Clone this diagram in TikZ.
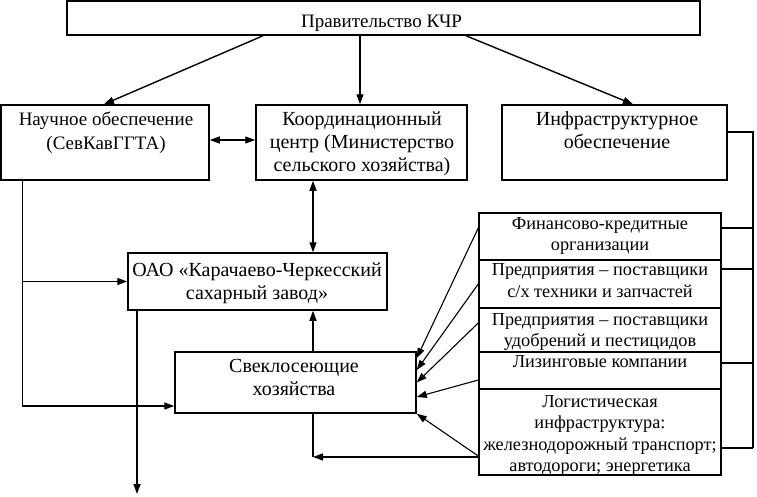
\documentclass[tikz,border=0pt]{standalone}
\usepackage{fontspec}
\setmainfont{Liberation Serif}
\usetikzlibrary{arrows.meta}
\newcommand{\mlines}[1]{\begin{tabular}[t]{@{}c@{}}#1\end{tabular}}
\begin{document}
\begin{tikzpicture}[x=1pt,y=-1pt,
  box/.style={draw, line width=1.5pt, inner sep=0pt},
  bigtxt/.style={anchor=base, inner sep=0pt, font=\fontsize{20}{23.3}\selectfont},
  midtxt/.style={anchor=base, inner sep=0pt, font=\fontsize{19}{24}\selectfont},
  smtxt/.style={anchor=base, inner sep=0pt, font=\fontsize{18.3}{21.5}\selectfont},
  conn/.style={line width=1.4pt},
  thin/.style={line width=0.9pt},
  arr/.style={line width=1.4pt, -{Triangle[length=10pt,width=7pt]}},
  darr/.style={line width=1.4pt, {Triangle[length=10pt,width=7pt]}-{Triangle[length=10pt,width=7pt]}},
  tarr/.style={line width=1.1pt, -{Triangle[length=10pt,width=7pt]}}]
\useasboundingbox (0,0) rectangle (757,496);
% boxes
\node[box, minimum width=633pt, minimum height=34pt] (gov) at (383.5,18) {};
\node[box, minimum width=208pt, minimum height=75pt] (nauch) at (105,142.5) {};
\node[box, minimum width=211pt, minimum height=75pt] (koord) at (361.5,142.5) {};
\node[box, minimum width=225pt, minimum height=75pt] (infra) at (614.5,142.5) {};
\node[box, minimum width=259pt, minimum height=57pt] (oao) at (257.5,281.5) {};
\node[box, minimum width=241pt, minimum height=61pt] (svek) at (295.5,382.5) {};
\node[box, minimum width=242pt, minimum height=47pt] (fin) at (600,236.5) {};
\node[box, minimum width=242pt, minimum height=48pt] (pr1) at (600,284) {};
\node[box, minimum width=242pt, minimum height=44pt] (pr2) at (600,330) {};
\node[box, minimum width=242pt, minimum height=37pt] (liz) at (600,370.5) {};
\node[box, minimum width=242pt, minimum height=86pt] (log) at (600,432) {};
% texts (positioned by the baseline of their first line)
\node[midtxt] (govT) at (381.5,27) {Правительство КЧР};
\node[midtxt] (nauchT) at (106,125) {\mlines{Научное обеспечение\\(СевКавГГТА)}};
\node[bigtxt] (koordT) at (362,125) {\mlines{Координационный\\центр (Министерство\\сельского хозяйства)}};
\node[bigtxt] (infraT) at (617,125) {\mlines{Инфраструктурное\\обеспечение}};
\node[bigtxt] (oaoT) at (257,276) {\mlines{ОАО «Карачаево-Черкесский\\сахарный завод»}};
\node[bigtxt] (svekT) at (294,372) {\mlines{Свеклосеющие\\хозяйства}};
\node[smtxt] (finT) at (600,229) {\mlines{Финансово-кредитные\\организации}};
\node[smtxt] (pr1T) at (600,275.5) {\mlines{Предприятия – поставщики\\с/х техники и запчастей}};
\node[smtxt] (pr2T) at (600,325) {\mlines{Предприятия – поставщики\\удобрений и пестицидов}};
\node[smtxt] (lizT) at (600,367) {Лизинговые компании};
\node[smtxt] (logT) at (600,407) {\mlines{Логистическая\\инфраструктура:\\железнодорожный транспорт;\\автодороги; энергетика}};
% coordinates
\coordinate (kx) at (313,0);
\coordinate (lb) at (313,457);
\coordinate (nl) at (22,406);
\coordinate (od) at (137,494);
\coordinate (rv) at (753,0);
\coordinate (infraR) at ([yshift=10.5pt]infra.east);
\coordinate (finR) at ([yshift=8.5pt]fin.east);
\coordinate (pr1R) at ([yshift=15pt]pr1.east);
\coordinate (lizR) at ([yshift=7.5pt]liz.east);
\coordinate (logR) at ([yshift=-16pt]log.east);
% top arrows
\draw[arr] ([xshift=-120.5pt]gov.south) -- ([xshift=-1pt]nauch.north);
\draw[arr] ([xshift=-23.5pt]gov.south) -- ([xshift=-1.5pt]koord.north);
\draw[arr] ([xshift=82.5pt]gov.south) -- ([xshift=18.5pt]infra.north);
\draw[darr] ([yshift=2.5pt]nauch.east) -- ([yshift=2.5pt]koord.west);
% middle column
\draw[darr] (koord.south -| kx) -- (oao.north -| kx);
\draw[arr] (svek.north -| kx) -- (oao.south -| kx);
\draw[arr] (log.west |- lb) -- (lb);
\draw[conn] (svek.south -| lb) -- (lb);
% left branch
\draw[thin] (nauch.south -| nl) -- (nl);
\draw[arr] (nl) -- (svek.west |- nl);
\draw[arr] (nl |- oao.west) -- (oao.west);
\draw[arr] (oao.south -| od) -- (od);
% right bus
\draw[line width=1.8pt] (infraR) -| (rv |- logR);
\draw[conn] (finR) -- (rv |- finR);
\draw[conn] (pr1R) -- (rv |- pr1R);
\draw[conn] (lizR) -- (rv |- lizR);
\draw[conn] (logR) -- (rv |- logR);
% arrows into svek
\draw[tarr] ([yshift=8.5pt]fin.west) -- ([yshift=24.5pt]svek.east);
\draw[tarr] (pr1.west) -- ([yshift=12.5pt]svek.east);
\draw[tarr] ([yshift=7pt]pr2.west) -- (svek.east);
\draw[tarr] ([yshift=-9.5pt]liz.west) -- ([yshift=-14.5pt]svek.east);
\draw[tarr] ([yshift=-24pt]log.west) -- (svek.south east);
\end{tikzpicture}
\end{document}
